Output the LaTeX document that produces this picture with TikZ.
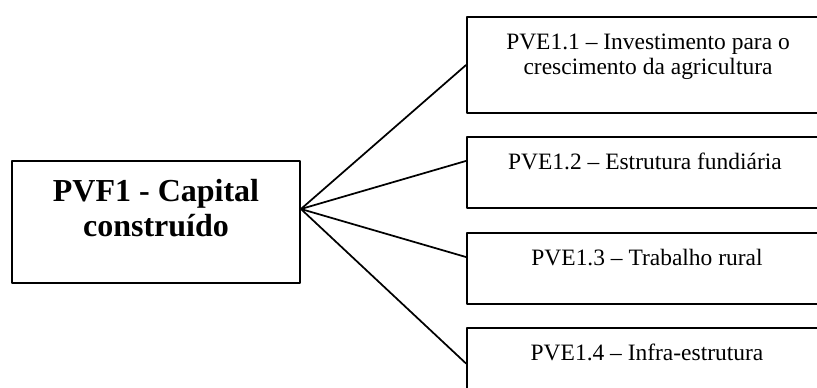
\documentclass[tikz,border=0pt]{standalone}
\usepackage{fontspec}
\setmainfont{Liberation Serif}
\usetikzlibrary{positioning}
\tikzset{
  pv diagram/.style={line cap=round, line join=round},
  pv box/.style={draw=black, fill=white, line width=1.4pt, inner sep=0pt},
  pv main box/.style={pv box, minimum width=216pt, minimum height=91.5pt},
  pv sub box/.style={pv box, minimum width=270pt, minimum height=53.25pt},
  pv title/.style={font=\fontsize{24}{26.25}\selectfont\bfseries,
    align=center, inner sep=0pt, anchor=base},
  pv label/.style={font=\fontsize{17.6}{18.75}\selectfont,
    align=center, inner sep=0pt, anchor=base},
  pv link/.style={draw=black, line width=1.3pt}
}
\begin{document}
\begin{tikzpicture}[pv diagram,x=0.75pt,y=-0.75pt]
\useasboundingbox (0,0) rectangle (817,387);
\node[pv main box] (pvf) at (156,222) {};
\node[pv title] (pvftext) at (156,236.5) {PVF1 - Capital\\construído};
\node[pv sub box,minimum height=72pt] (b1) at (647,65) {};
\node[pv label] (t1) at (648,74) {PVE1.1 – Investimento para o\\crescimento da agricultura};
\node[pv sub box] (b2) at (647,172.5) {};
\node[pv label] (t2) at (645,169) {PVE1.2 – Estrutura fundiária};
\node[pv sub box] (b3) at (647,268.5) {};
\node[pv label] (t3) at (647,265) {PVE1.3 – Trabalho rural};
\node[pv sub box] (b4) at (647,363.5) {};
\node[pv label] (t4) at (647,360) {PVE1.4 – Infra-estrutura};
\coordinate (hub) at ([yshift=9.75pt]pvf.east);
\draw[pv link] (hub) -- (b1.west);
\draw[pv link] (hub) -- (b2.west |- t2);
\draw[pv link] (hub) -- (b3.west |- t3);
\draw[pv link] (hub) -- (b4.west);
\end{tikzpicture}
\end{document}
